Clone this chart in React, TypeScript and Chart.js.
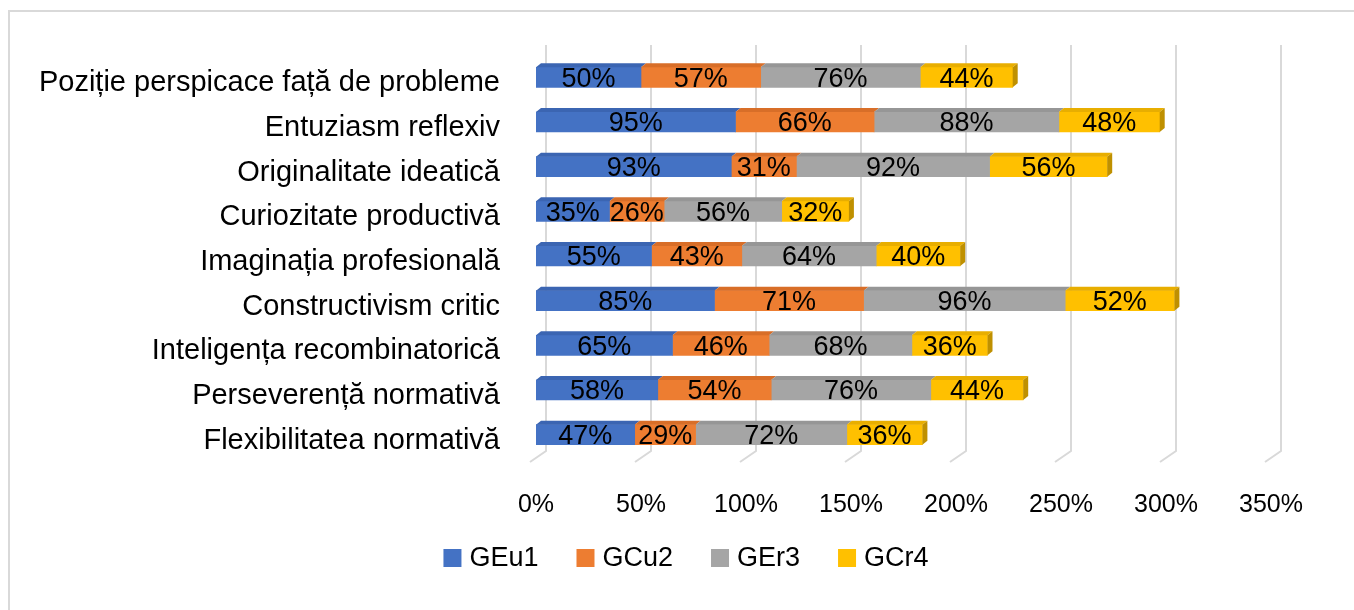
import React, { useEffect, useRef } from 'react';
import { Chart, registerables } from 'chart.js';

Chart.register(...registerables);

const categories = [
  'Poziție perspicace față de probleme',
  'Entuziasm reflexiv',
  'Originalitate ideatică',
  'Curiozitate productivă',
  'Imaginația profesională',
  'Constructivism critic',
  'Inteligența recombinatorică',
  'Perseverență normativă',
  'Flexibilitatea normativă',
];

const seriesNames = ['GEu1', 'GCu2', 'GEr3', 'GCr4'];
const gEu1 = [50, 95, 93, 35, 55, 85, 65, 58, 47];
const gCu2 = [57, 66, 31, 26, 43, 71, 46, 54, 29];
const gEr3 = [76, 88, 92, 56, 64, 96, 68, 76, 72];
const gCr4 = [44, 48, 56, 32, 40, 52, 36, 44, 36];
const seriesValues = [gEu1, gCu2, gEr3, gCr4];

const xMin = 0;
const xMax = 350;
const xStep = 50;

const frontColors = ['#4472C4', '#ED7D31', '#A5A5A5', '#FFC000'];
const topColors = ['#3b65b2', '#d86e28', '#969696', '#e8ae00'];
const sideColor = '#bf9000';
const gridColor = '#d9d9d9';
const FONT = "'Liberation Sans', Arial, sans-serif";

const DEPTH_X = 5;
const DEPTH_Y = 4;

const bar3dPlugin = {
  id: 'bar3d',
  beforeDatasetsDraw(chart: any) {
    const { ctx, chartArea, scales } = chart;
    const xs = scales.x;
    ctx.save();
    ctx.strokeStyle = gridColor;
    ctx.lineWidth = 2;
    for (let v = xMin; v <= xMax; v += xStep) {
      const xf = xs.getPixelForValue(v);
      const bx = xf + 10;
      ctx.beginPath();
      ctx.moveTo(bx, chartArea.top - 10);
      ctx.lineTo(bx, chartArea.bottom - 6);
      ctx.lineTo(xf - 6, chartArea.bottom + 5);
      ctx.stroke();
    }
    ctx.restore();
  },
  afterDatasetsDraw(chart: any) {
    const { ctx } = chart;
    const nSets = chart.data.datasets.length;
    ctx.save();
    for (let d = 0; d < nSets; d++) {
      const meta = chart.getDatasetMeta(d);
      meta.data.forEach((el: any) => {
        const p = el.getProps(['x', 'y', 'base', 'height'], true);
        const top = p.y - p.height / 2;
        const bottom = p.y + p.height / 2;
        const x0 = Math.min(p.base, p.x);
        const x1 = Math.max(p.base, p.x);
        ctx.fillStyle = topColors[d];
        ctx.beginPath();
        ctx.moveTo(x0, top);
        ctx.lineTo(x1, top);
        ctx.lineTo(x1 + DEPTH_X, top - DEPTH_Y);
        ctx.lineTo(x0 + DEPTH_X, top - DEPTH_Y);
        ctx.closePath();
        ctx.fill();
        if (d === nSets - 1) {
          ctx.fillStyle = sideColor;
          ctx.beginPath();
          ctx.moveTo(x1, top);
          ctx.lineTo(x1 + DEPTH_X, top - DEPTH_Y);
          ctx.lineTo(x1 + DEPTH_X, bottom - DEPTH_Y);
          ctx.lineTo(x1, bottom);
          ctx.closePath();
          ctx.fill();
        }
      });
    }
    // data labels
    ctx.fillStyle = '#000';
    ctx.font = `27px ${FONT}`;
    ctx.textAlign = 'center';
    ctx.textBaseline = 'middle';
    for (let d = 0; d < nSets; d++) {
      const meta = chart.getDatasetMeta(d);
      const vals = chart.data.datasets[d].data;
      meta.data.forEach((el: any, i: number) => {
        const p = el.getProps(['x', 'y', 'base'], true);
        ctx.fillText(`${vals[i]}%`, (p.x + p.base) / 2, p.y + 2);
      });
    }
    ctx.restore();
  },
  afterDraw(chart: any) {
    const { ctx, scales } = chart;
    const xs = scales.x;
    ctx.save();
    // x tick labels
    ctx.fillStyle = '#000';
    ctx.font = `25px ${FONT}`;
    ctx.textAlign = 'center';
    ctx.textBaseline = 'middle';
    xs.ticks.forEach((t: any) => {
      ctx.fillText(`${t.value}%`, xs.getPixelForValue(t.value), 505);
    });
    // legend
    const ds = chart.data.datasets;
    const box = 18;
    const gapText = 8;
    const gapItem = 38;
    ctx.font = `27px ${FONT}`;
    ctx.textAlign = 'left';
    const widths = ds.map((d: any) => ctx.measureText(d.label).width);
    const total =
      widths.reduce((a: number, b: number) => a + b, 0) +
      ds.length * (box + gapText) +
      (ds.length - 1) * gapItem;
    let x = 686 - total / 2;
    const cy = 558;
    ds.forEach((d: any, i: number) => {
      ctx.fillStyle = d.backgroundColor;
      ctx.fillRect(x, cy - box / 2, box, box);
      ctx.fillStyle = '#000';
      ctx.fillText(d.label, x + box + gapText, cy + 1);
      x += box + gapText + widths[i] + gapItem;
    });
    ctx.restore();
  },
};

export default function App() {
  const canvasRef = useRef<HTMLCanvasElement | null>(null);

  useEffect(() => {
    if (!canvasRef.current) return;
    const chart = new Chart(canvasRef.current, {
      type: 'bar',
      data: {
        labels: categories,
        datasets: seriesNames.map((name, i) => ({
          label: name,
          data: seriesValues[i],
          backgroundColor: frontColors[i],
          borderWidth: 0,
          barThickness: 20,
        })),
      },
      options: {
        indexAxis: 'y',
        responsive: false,
        animation: false,
        devicePixelRatio: 1,
        layout: { padding: { top: 55, right: 83, bottom: 101, left: 0 } },
        scales: {
          x: {
            stacked: true,
            min: xMin,
            max: xMax,
            border: { display: false },
            grid: { display: false, drawTicks: false },
            ticks: {
              display: false,
              stepSize: xStep,
            },
            afterFit: (s: any) => {
              s.height = 52;
            },
          },
          y: {
            stacked: true,
            border: { display: false },
            grid: { display: false, drawTicks: false },
            ticks: {
              padding: 36,
              labelOffset: 6,
              color: '#000',
              font: { family: FONT, size: 29 },
            },
            afterFit: (s: any) => {
              s.width = 536;
            },
          },
        },
        plugins: {
          legend: { display: false },
          tooltip: { enabled: false },
        },
      },
      plugins: [bar3dPlugin],
    } as any);
    return () => chart.destroy();
  }, []);

  return (
    <div>
      <div
        style={{
          position: 'fixed',
          left: 8,
          top: 10,
          width: 1346,
          height: 600,
          borderLeft: '2px solid #d9d9d9',
          borderTop: '2px solid #d9d9d9',
          boxSizing: 'border-box',
        }}
      />
      <canvas
        ref={canvasRef}
        width={1354}
        height={610}
        style={{ position: 'fixed', left: 0, top: 0, width: 1354, height: 610 }}
      />
    </div>
  );
}
